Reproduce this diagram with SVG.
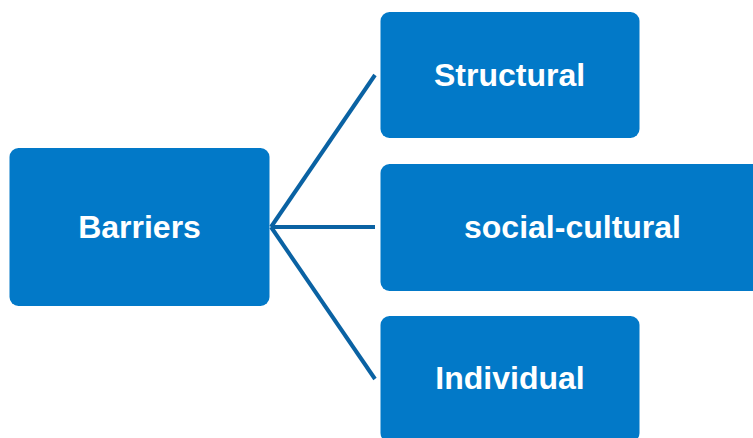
<svg xmlns="http://www.w3.org/2000/svg" width="753" height="438" viewBox="0 0 753 438">
  <style>
    .box { fill: #0279c8; }
    .label { fill: #ffffff; font-family: "Liberation Sans", Arial, sans-serif; font-weight: bold; font-size: 32px; text-anchor: middle; }
    .link { stroke: #0a62a3; stroke-width: 4; fill: none; stroke-linecap: butt; }
  </style>
  <rect width="753" height="438" fill="#ffffff"/>

  <!-- connectors fanning out from the root -->
  <g id="connectors">
    <line class="link" x1="271" y1="227" x2="375" y2="75"/>
    <line class="link" x1="271" y1="227" x2="375" y2="227"/>
    <line class="link" x1="271" y1="227" x2="375" y2="379"/>
  </g>

  <g id="barriers">
    <rect class="box" x="9.5" y="148" width="260" height="158" rx="9"/>
    <text class="label" x="139.5" y="238">Barriers</text>
  </g>

  <g id="structural">
    <rect class="box" x="380.5" y="12" width="259" height="126" rx="9"/>
    <text class="label" x="509.5" y="86">Structural</text>
  </g>

  <g id="social-cultural">
    <rect class="box" x="380.5" y="164" width="384" height="127" rx="9"/>
    <text class="label" x="572.5" y="238">social-cultural</text>
  </g>

  <g id="individual">
    <rect class="box" x="380.5" y="316" width="259" height="126" rx="9"/>
    <text class="label" x="510" y="389">Individual</text>
  </g>
</svg>
